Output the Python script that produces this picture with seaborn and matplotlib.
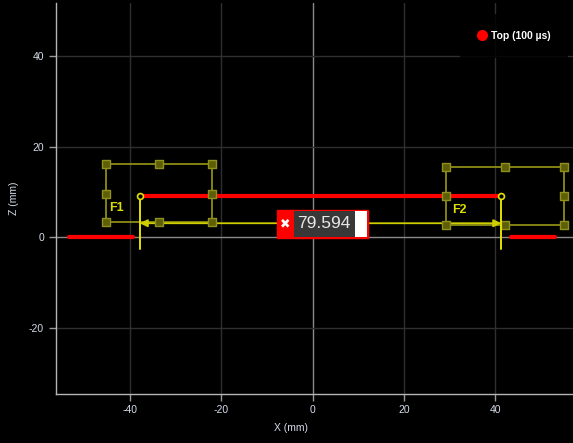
import numpy as np
import pandas as pd
import matplotlib
matplotlib.use("Agg")
import matplotlib.pyplot as plt
import seaborn as sns
from matplotlib.patches import Rectangle
from matplotlib.lines import Line2D

# ---------------- data ----------------
profile_seg = [0, 0, 1, 1, 2, 2]
profile_x = [-53.3, -39.3, -37.8, 40.9, 43.5, 53.1]
profile_z = [0.0, 0.0, 9.0, 9.0, 0.0, 0.0]
series_label = "Top (100 µs)"

f1_x = [-45.2, -33.7, -22.1]   # left, middle, right
f1_z = [3.3, 9.5, 16.1]        # bottom, middle, top
f2_x = [29.3, 42.2, 55.1]
f2_z = [2.8, 9.1, 15.4]
box_labels = ["F1", "F2"]
box_label_pos = [(-42.8, 6.4), (32.2, 6.1)]

meas_x = [-37.8, 41.3]
meas_top = 9.0
meas_bottom = -2.6
meas_arrow_z = 3.1
meas_value = "79.594"

xticks = [-40, -20, 0, 20, 40]
yticks = [-20, 0, 20, 40]
xlim = (-56.15, 57.0)
ylim = (-34.4, 51.6)

# ---------------- style ----------------
sns.set_style("dark")
plt.rcParams["font.family"] = ["Liberation Sans", "DejaVu Sans"]
plt.rcParams["axes.unicode_minus"] = False

fig = plt.figure(figsize=(5.73, 4.43), dpi=100, facecolor="black")
ax = fig.add_axes([0.0976, 0.1117, 0.9024, 0.8815])
ax.set_facecolor("black")

ax.set_xlim(*xlim)
ax.set_ylim(*ylim)
ax.set_xticks(xticks)
ax.set_yticks(yticks)

for v in xticks:
    ax.axvline(v, color="#8a8a8a" if v == 0 else "#2f2f2f", lw=1, zorder=0)
for v in yticks:
    ax.axhline(v, color="#8a8a8a" if v == 0 else "#2f2f2f", lw=1, zorder=0)
ax.grid(False)

for s in ["top", "right"]:
    ax.spines[s].set_visible(False)
for s in ["left", "bottom"]:
    ax.spines[s].set_visible(True)
    ax.spines[s].set_color("#b5b5b5")
    ax.spines[s].set_linewidth(1)

ax.tick_params(axis="both", colors="#9a9a9a", length=5, width=1,
               labelcolor="#d4dbe8", labelsize=7.5, bottom=True, left=True)
ax.set_xlabel("X (mm)", color="#d4dbe8", fontsize=7.5, labelpad=6)
ax.set_ylabel("Z (mm)", color="#d4dbe8", fontsize=7.5, labelpad=6)
ax.xaxis.set_label_coords(0.455, -0.075)
ax.yaxis.set_label_coords(-0.072, 0.5)

# ---------------- profile (red) ----------------
prof = pd.DataFrame({"seg": profile_seg, "x": profile_x, "z": profile_z})
sns.lineplot(data=prof, x="x", y="z", units="seg", estimator=None, sort=False,
             color="#ff0000", lw=3, legend=False, ax=ax, zorder=3)

# ---------------- boxes ----------------
line_col = "#8c8c14"
handle_face = "#5e5e08"
handle_edge = "#8f8f1c"
for bx, bz in [(f1_x, f1_z), (f2_x, f2_z)]:
    ox = [bx[0], bx[2], bx[2], bx[0], bx[0]]
    oz = [bz[2], bz[2], bz[0], bz[0], bz[2]]
    outline = pd.DataFrame({"x": ox, "z": oz})
    sns.lineplot(data=outline, x="x", y="z", sort=False, estimator=None,
                 color=line_col, lw=1.3, ax=ax, zorder=4)
    hx = [bx[0], bx[1], bx[2], bx[0], bx[2], bx[0], bx[1], bx[2]]
    hz = [bz[2], bz[2], bz[2], bz[1], bz[1], bz[0], bz[0], bz[0]]
    handles = pd.DataFrame({"x": hx, "z": hz})
    sns.scatterplot(data=handles, x="x", y="z", marker="s", s=38,
                    color=handle_face, edgecolor=handle_edge, linewidth=1,
                    ax=ax, zorder=6, legend=False)

for lab, (lx, lz) in zip(box_labels, box_label_pos):
    ax.text(lx, lz, lab, color="#dcdc00", fontsize=9, fontweight="bold",
            ha="center", va="center", zorder=7)

# ---------------- measurement ----------------
ycol = "#e2e200"
ax.annotate("", xy=(meas_x[0], meas_arrow_z), xytext=(meas_x[1], meas_arrow_z),
            arrowprops=dict(arrowstyle="<|-|>", color="#cfcf00", lw=1.3,
                            mutation_scale=11, shrinkA=0, shrinkB=0),
            zorder=5)
for mx in meas_x:
    ax.plot([mx, mx], [meas_top, meas_bottom], color=ycol, lw=1.4, zorder=7)
ax.scatter(meas_x, [meas_top, meas_top], s=18, facecolor="black",
           edgecolor=ycol, linewidth=1.2, zorder=8)

# label box
bz0, bz1 = -0.15, 6.0
ax.add_patch(Rectangle((-7.8, bz0), 19.95, bz1 - bz0, facecolor="#ff0000",
                       edgecolor="#ff0000", lw=1, zorder=9))
ax.add_patch(Rectangle((-4.05, bz0 + 0.25), 13.35, bz1 - bz0 - 0.5,
                       facecolor="#383838", edgecolor="none", zorder=10))
ax.add_patch(Rectangle((9.3, bz0 + 0.25), 2.6, bz1 - bz0 - 0.5,
                       facecolor="white", edgecolor="none", zorder=10))
ax.text(-5.95, 3.0, "✖", color="white", fontsize=9, fontweight="bold",
        ha="center", va="center", zorder=11, family=["DejaVu Sans"])
ax.text(2.5, 2.95, meas_value, color="#e8e8e8", fontsize=12.5,
        ha="center", va="center", zorder=11)

# ---------------- legend ----------------
leg_handle = Line2D([0], [0], marker="o", color="none", markerfacecolor="#ff0000",
                    markeredgecolor="#ff0000", markersize=7, label=series_label)
leg = ax.legend(handles=[leg_handle], loc="center",
                bbox_to_anchor=(514 / 573, 1 - 36 / 443),
                bbox_transform=fig.transFigure, frameon=True, facecolor="black",
                edgecolor="none", framealpha=0.85, fontsize=7.5,
                handletextpad=0.4, handlelength=1.0, borderpad=1.6)
for t in leg.get_texts():
    t.set_color("white")
    t.set_fontweight("bold")
leg.set_zorder(20)

fig.savefig("out.png", dpi=100, facecolor="black")
